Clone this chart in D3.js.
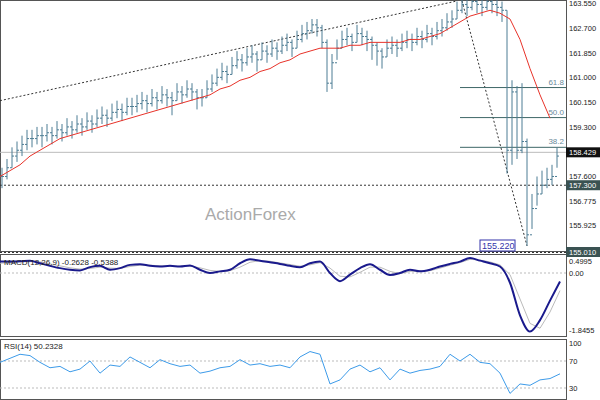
<!DOCTYPE html>
<html><head><meta charset="utf-8">
<script src="https://cdn.jsdelivr.net/npm/d3@7"></script>
<style>body{margin:0;background:#fff}text{font-family:"Liberation Sans",Arial,sans-serif}</style>
</head><body><svg id="c" width="600" height="400"></svg>
<script>
const close = [157.6,157.9,158.3,158.5,158.7,158.9,158.9,159.0,159.0,159.1,159.0,159.2,159.1,159.3,159.2,159.4,159.3,159.5,159.4,159.6,
159.7,159.6,159.8,159.9,159.8,160.0,160.0,160.1,160.2,160.1,160.3,160.2,160.4,160.3,160.2,160.5,160.4,160.6,160.5,160.3,
160.3,160.6,160.8,161.0,161.2,161.1,161.4,161.6,161.5,161.7,161.8,161.6,161.9,161.8,162.0,161.9,162.1,162.2,162.0,162.3,
162.5,162.6,162.8,162.7,162.2,160.8,161.5,162.0,162.3,162.4,162.2,162.5,162.4,162.3,162.1,161.9,161.7,162.0,162.1,162.0,
162.2,162.3,162.2,162.4,162.3,162.5,162.4,162.6,162.7,162.9,163.0,163.3,163.5,163.4,163.6,163.5,163.4,163.6,163.5,163.4,
163.3,158.5,160.5,158.5,158.8,155.6,156.5,157.0,157.3,157.5,157.6,158.3];
const high = [157.9,158.2,158.6,158.8,159.0,159.2,159.2,159.3,159.3,159.4,159.3,159.5,159.4,159.6,159.5,159.7,159.6,159.8,159.7,159.9,
160.0,159.9,160.1,160.2,160.1,160.3,160.3,160.4,160.5,160.4,160.6,160.5,160.7,160.6,160.5,160.8,160.7,160.9,160.8,160.6,
160.6,160.9,161.1,161.3,161.5,161.4,161.7,161.9,161.8,162.0,162.1,161.9,162.2,162.1,162.3,162.2,162.4,162.5,162.3,162.6,
162.8,162.9,163.0,163.0,162.8,162.3,161.8,162.3,162.6,162.7,162.5,162.8,162.7,162.6,162.4,162.2,162.0,162.3,162.4,162.3,
162.5,162.6,162.5,162.7,162.6,162.8,162.7,162.9,163.0,163.2,163.3,163.6,163.8,163.7,163.9,163.8,163.7,163.9,163.8,163.7,
163.6,163.3,160.9,160.7,160.8,158.9,157.0,157.6,157.8,157.9,158.0,158.6];
const low = [157.2,157.5,157.9,158.1,158.3,158.5,158.6,158.7,158.6,158.8,158.7,158.9,158.8,159.0,158.9,159.1,159.0,159.2,159.1,159.3,
159.4,159.3,159.5,159.6,159.5,159.7,159.7,159.8,159.9,159.8,160.0,159.9,160.1,160.0,159.7,160.2,160.1,160.3,160.2,159.9,
160.0,160.3,160.5,160.7,160.9,160.8,161.1,161.3,161.2,161.4,161.5,161.2,161.6,161.5,161.7,161.6,161.8,161.9,161.7,162.0,
162.2,162.3,162.5,162.4,162.0,160.5,160.6,161.6,162.0,162.1,161.9,162.2,162.1,161.9,161.6,161.4,161.3,161.7,161.8,161.7,
161.9,162.0,161.9,162.1,162.0,162.2,162.1,162.3,162.4,162.6,162.7,163.0,163.2,163.1,163.3,163.2,163.1,163.3,163.2,163.1,
162.9,157.7,158.0,158.2,158.4,155.22,155.8,156.6,157.0,157.2,157.3,157.9];
const ma = [157.6,157.8,158.0,158.3,158.5,158.7,158.9,159.0,159.1,159.2,159.3,159.4,159.5,159.6,159.7,159.8,159.9,160.0,160.1,160.2,
160.3,160.4,160.6,160.7,160.9,161.0,161.2,161.3,161.5,161.6,161.8,161.9,162.0,162.0,162.0,162.1,162.1,162.2,162.2,162.2,
162.2,162.3,162.3,162.4,162.5,162.7,162.9,163.1,163.2,163.3,163.2,163.0,162.3,161.3,160.4,159.6];
const macd = [.35,.35,.36,.38,.3,.22,.15,.1,.08,.18,.22,.1,.15,.25,.27,.22,.2,.22,.2,.23,.1,0,.05,.1,.3,.42,.38,.33,.28,.22,
.18,.3,.35,0,-.25,-.05,.15,.27,.1,-.06,0,.1,.05,.1,.2,.28,.35,.46,.38,.3,.2,-.3,-1.3,-1.8,-1.45,-.85,-.26];
const signal = [.3,.32,.34,.35,.34,.28,.22,.16,.12,.14,.18,.15,.14,.2,.24,.24,.22,.21,.21,.21,.16,.08,.05,.07,.18,.33,.38,.36,.31,.26,
.21,.25,.32,.15,-.1,-.12,.02,.18,.18,.05,-.02,.05,.06,.07,.15,.24,.32,.42,.4,.34,.25,-.05,-.8,-1.55,-1.7,-1.2,-.54];
const rsi = [68,74,80,78,68,60,62,54,58,70,52,64,62,76,68,60,72,66,62,64,52,55,60,62,72,64,66,62,64,60,
76,84,80,36,42,58,64,54,60,42,58,52,56,58,62,80,70,80,68,66,52,22,36,34,42,44,51];
const priceTicks = [163.550,162.700,161.850,161.000,160.150,159.300,157.600,156.775,155.925];
const fibs = [["61.8",160.65],["50.0",159.62],["38.2",158.6]];

const svg = d3.select('#c');
const W = 566;
const bx = d3.scaleLinear().domain([0, close.length-1]).range([2, 557]);
const x10 = d3.scaleLinear().domain([0, 1]).range([0, 10]);
const y = d3.scaleLinear().domain([155.01, 163.55]).range([252, 3]);
const ym = d3.scaleLinear().domain([-1.8455, 0]).range([333, 273]);
const yr = d3.scaleLinear().domain([30, 70]).range([388, 361]);
const fs = 7.5;

[[0,252],[254,337],[339,400]].forEach(([t,b]) =>
  svg.append('rect').attr('x',0.5).attr('y',t+0.5).attr('width',W).attr('height',b-t-1)
    .attr('fill','none').attr('stroke','#555'));

svg.append('text').attr('x',205).attr('y',220).attr('font-size',17).attr('fill','#aaa').text('ActionForex');

svg.append('line').attr('x1',0).attr('x2',W).attr('y1',y(158.429)).attr('y2',y(158.429)).attr('stroke','#bbb');
svg.append('line').attr('x1',0).attr('x2',W).attr('y1',y(157.3)).attr('y2',y(157.3)).attr('stroke','#333').attr('stroke-dasharray','2,2');
svg.append('line').attr('x1',0).attr('x2',W).attr('y1',y(155.01)+0.5).attr('y2',y(155.01)+0.5).attr('stroke','#333').attr('stroke-dasharray','2,2');
svg.append('line').attr('x1',0).attr('y1',y(160.2)).attr('x2',bx(91)).attr('y2',y(163.62)).attr('stroke','#333').attr('stroke-dasharray','2,2');
svg.append('line').attr('x1',bx(92)).attr('y1',y(163.62)).attr('x2',bx(105)).attr('y2',y(155.22)).attr('stroke','#333').attr('stroke-dasharray','2,2');
fibs.forEach(([t,v]) => {
  svg.append('line').attr('x1',460).attr('x2',W).attr('y1',y(v)).attr('y2',y(v)).attr('stroke','#3d6666');
  svg.append('text').attr('x',W-2).attr('y',y(v)-3).attr('text-anchor','end').attr('font-size',8).attr('fill','#6a8a9a').text(t);
});

const g = svg.append('g').attr('stroke','#4d7d94').attr('stroke-width',1);
close.forEach((c,i) => {
  g.append('line').attr('x1',bx(i)).attr('x2',bx(i)).attr('y1',y(high[i])).attr('y2',y(low[i]));
  g.append('line').attr('x1',bx(i)).attr('x2',bx(i)+2).attr('y1',y(c)).attr('y2',y(c));
  const o = i ? close[i-1] : c;
  g.append('line').attr('x1',bx(i)-2).attr('x2',bx(i)).attr('y1',y(o)).attr('y2',y(o));
});
svg.append('path').datum(ma).attr('fill','none').attr('stroke','#e8332a').attr('stroke-width',1)
  .attr('d', d3.line().x((d,i)=>x10(i)).y(d=>y(d)));

svg.append('rect').attr('x',480).attr('y',240).attr('width',35).attr('height',11).attr('fill','#fff').attr('stroke','#3333aa');
svg.append('text').attr('x',482).attr('y',249).attr('font-size',9).attr('fill','#3333aa').text('155.220');

priceTicks.forEach(v => svg.append('text').attr('x',569).attr('y',y(v)+3).attr('font-size',fs).attr('fill','#222').text(v.toFixed(3)));
[[158.429,'#111'],[157.3,'#3a5252'],[155.01,'#3a5252']].forEach(([v,col]) => {
  svg.append('rect').attr('x',566).attr('y',y(v)-5).attr('width',34).attr('height',10).attr('fill',col);
  svg.append('text').attr('x',569).attr('y',y(v)+3).attr('font-size',fs).attr('fill','#fff').text(v.toFixed(3));
});

svg.append('line').attr('x1',0).attr('x2',W).attr('y1',ym(0)).attr('y2',ym(0)).attr('stroke','#bbb').attr('stroke-dasharray','2,2');
svg.append('path').datum(signal).attr('fill','none').attr('stroke','#bbb').attr('d', d3.line().x((d,i)=>x10(i)).y(d=>ym(d)));
svg.append('path').datum(macd).attr('fill','none').attr('stroke','#1a1a8c').attr('stroke-width',2).attr('d', d3.line().curve(d3.curveMonotoneX).x((d,i)=>x10(i)).y(d=>ym(d)));
svg.append('text').attr('x',4).attr('y',265).attr('font-size',8).attr('fill','#222').text('MACD(12,26,9) -0.2628 -0.5388');
[[0.4995,'0.4995',7],[0,'0.00',3],[-1.8455,'-1.8455',0]].forEach(([v,t,dy]) =>
  svg.append('text').attr('x',569).attr('y',ym(v)+dy).attr('font-size',fs).attr('fill','#222').text(t));

[70,30].forEach(v => svg.append('line').attr('x1',0).attr('x2',W).attr('y1',yr(v)).attr('y2',yr(v)).attr('stroke','#bbb').attr('stroke-dasharray','2,2'));
svg.append('path').datum(rsi).attr('fill','none').attr('stroke','#3d9be9').attr('d', d3.line().x((d,i)=>x10(i)).y(d=>yr(d)));
svg.append('text').attr('x',4).attr('y',349).attr('font-size',8).attr('fill','#222').text('RSI(14) 50.2328');
[[100,5],[70,3],[30,3]].forEach(([v,dy]) => svg.append('text').attr('x',569).attr('y',yr(v)+dy).attr('font-size',fs).attr('fill','#222').text(v));
</script></body></html>
